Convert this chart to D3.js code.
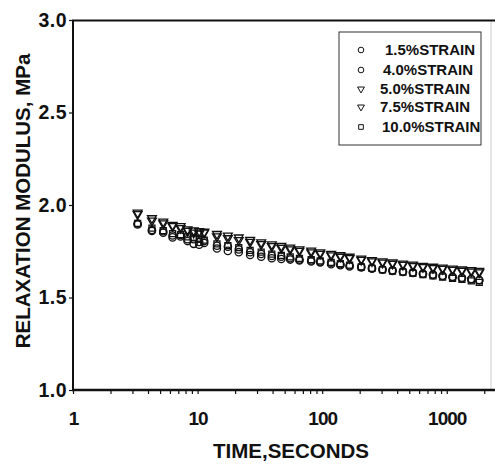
<!DOCTYPE html>
<html>
<head>
<meta charset="utf-8">
<script src="https://cdn.jsdelivr.net/npm/d3@7"></script>
<style>
  body { margin: 0; background: #fff; }
  text { font-family: "Liberation Sans", Arial, sans-serif; font-weight: bold; fill: #111; }
</style>
</head>
<body>
<svg id="svg" width="495" height="464"></svg>
<script>
// time in seconds (shared by all series)
const times = [3.3, 4.3, 5.3, 6.3, 7.3, 8.3, 9.3, 10.3, 11.3, 14.3, 17.5, 21.4, 26.4, 32.4, 39.4, 47, 55.4, 65.7,
  81.6, 96.4, 118, 140, 166, 206, 251, 305, 367, 445, 535, 644, 775, 926, 1113, 1324, 1573, 1823]

const strain15 = [1.895, 1.86, 1.85, 1.825, 1.83, 1.805, 1.79, 1.785, 1.795, 1.765, 1.752, 1.745, 1.73, 1.72, 1.712, 1.708,
  1.705, 1.70, 1.695, 1.69, 1.68, 1.675, 1.668, 1.662, 1.656, 1.65, 1.644, 1.638, 1.633, 1.627, 1.621, 1.615, 1.61, 1.604, 1.598, 1.592]
const strain40 = [1.90, 1.865, 1.858, 1.835, 1.838, 1.815, 1.815, 1.80, 1.805, 1.78, 1.775, 1.76, 1.745, 1.735, 1.725, 1.72,
  1.712, 1.705, 1.70, 1.695, 1.688, 1.68, 1.673, 1.668, 1.66, 1.653, 1.647, 1.641, 1.636, 1.63, 1.625, 1.618, 1.612, 1.607, 1.60, 1.595]
const strain50 = [1.958, 1.928, 1.91, 1.892, 1.885, 1.868, 1.862, 1.859, 1.855, 1.843, 1.834, 1.824, 1.811, 1.798, 1.787, 1.778,
  1.769, 1.76, 1.753, 1.744, 1.735, 1.728, 1.72, 1.71, 1.702, 1.695, 1.69, 1.683, 1.677, 1.671, 1.666, 1.661, 1.656, 1.651, 1.647, 1.643]
const strain75 = [1.95, 1.915, 1.90, 1.885, 1.875, 1.86, 1.85, 1.845, 1.85, 1.83, 1.82, 1.81, 1.80, 1.788, 1.777, 1.768,
  1.76, 1.752, 1.744, 1.736, 1.727, 1.72, 1.712, 1.703, 1.695, 1.688, 1.682, 1.676, 1.67, 1.664, 1.659, 1.654, 1.649, 1.644, 1.64, 1.636]
const strain100 = [1.90, 1.875, 1.862, 1.845, 1.84, 1.828, 1.822, 1.815, 1.81, 1.79, 1.78, 1.77, 1.755, 1.745, 1.735, 1.728,
  1.72, 1.712, 1.705, 1.698, 1.69, 1.683, 1.675, 1.665, 1.657, 1.65, 1.643, 1.637, 1.63, 1.624, 1.617, 1.61, 1.604, 1.598, 1.59, 1.582]

const seriesNames = ['1.5%STRAIN', '4.0%STRAIN', '5.0%STRAIN', '7.5%STRAIN', '10.0%STRAIN']
const seriesValues = [strain15, strain40, strain50, strain75, strain100]
const seriesShapes = ['circle', 'circle', 'triangle', 'triangle', 'square']

const xTickLabels = [1, 10, 100, 1000]
const yTickLabels = [1.0, 1.5, 2.0, 2.5, 3.0]

const svg = d3.select('#svg')

const xScale = d3.scaleLog()
  .domain([1, 2265])
  .range([73, 491])

const yScale = d3.scaleLinear()
  .domain([1, 3])
  .range([390, 20])

function markerPath(shape, scale) {
  if (shape === 'circle') return d3.symbol(d3.symbolCircle, 42 * scale)()
  if (shape === 'square') return d3.symbol(d3.symbolSquare, 36 * scale)()
  return d3.symbol(d3.symbolTriangle, 34 * scale)()
}
function markerTransform(shape, x, y) {
  return shape === 'triangle' ? `translate(${x},${y}) rotate(180)` : `translate(${x},${y})`
}

// x ticks: minor ticks every decade, labels only at powers of ten
const xTicks = []
for (let p = 1; p <= 1000; p *= 10) {
  for (let m = 1; m <= 9; m++) {
    if (m * p <= 2265) xTicks.push(m * p)
  }
}

const xAxis = d3.axisBottom(xScale)
  .tickValues(xTicks)
  .tickSize(4)
  .tickFormat(d => xTickLabels.includes(d) ? d : '')

svg.append('g')
  .attr('transform', 'translate(0,390)')
  .call(xAxis)
  .call(g => g.select('.domain').remove())
  .call(g => g.selectAll('line').attr('stroke', '#111').attr('stroke-width', 1.2))
  .call(g => g.selectAll('text')
    .attr('y', 22)
    .attr('dy', '0.71em')
    .style('font-size', '19px')
    .style('letter-spacing', '-1px')
    .style('font-family', '"Liberation Sans", Arial, sans-serif')
    .style('font-weight', 'bold')
    .attr('fill', '#111'))

const yAxis = d3.axisLeft(yScale)
  .tickValues(yTickLabels)
  .tickSize(4)
  .tickFormat(d3.format('.1f'))

svg.append('g')
  .attr('transform', 'translate(73,0)')
  .call(yAxis)
  .call(g => g.select('.domain').remove())
  .call(g => g.selectAll('line').attr('stroke', '#111').attr('stroke-width', 1.2))
  .call(g => g.selectAll('text')
    .attr('x', -6)
    .style('font-size', '19.5px')
    .style('letter-spacing', '0.5px')
    .style('font-family', '"Liberation Sans", Arial, sans-serif')
    .style('font-weight', 'bold')
    .attr('fill', '#111'))

// frame
svg.append('line').attr('x1', 491).attr('x2', 491).attr('y1', 20).attr('y2', 390)
  .attr('stroke', '#ccc').attr('stroke-width', 1)
svg.append('line').attr('x1', 72).attr('x2', 495).attr('y1', 20.5).attr('y2', 20.5)
  .attr('stroke', '#111').attr('stroke-width', 2)
svg.append('line').attr('x1', 73).attr('x2', 73).attr('y1', 20).attr('y2', 391)
  .attr('stroke', '#111').attr('stroke-width', 2)
svg.append('line').attr('x1', 72).attr('x2', 495).attr('y1', 390).attr('y2', 390)
  .attr('stroke', '#111').attr('stroke-width', 2.5)

// data markers
seriesValues.forEach((vals, si) => {
  const shape = seriesShapes[si]
  svg.append('g')
    .selectAll('path')
    .data(vals)
    .join('path')
    .attr('d', markerPath(shape, 1))
    .attr('transform', (d, i) => markerTransform(shape, xScale(times[i]), yScale(d)))
    .attr('fill', 'none')
    .attr('stroke', '#111')
    .attr('stroke-width', 1.3)
})

// legend
const legend = svg.append('g')
legend.append('rect')
  .attr('x', 339).attr('y', 32).attr('width', 142).attr('height', 113)
  .attr('fill', '#fff').attr('stroke', '#333').attr('stroke-width', 1)

const legendY = [50, 70, 89, 107, 127]
const legendTextX = [385, 383, 380, 380, 382]
seriesNames.forEach((name, i) => {
  const shape = seriesShapes[i]
  legend.append('path')
    .attr('d', markerPath(shape, 0.6))
    .attr('transform', markerTransform(shape, 361, legendY[i]))
    .attr('fill', 'none')
    .attr('stroke', '#111')
    .attr('stroke-width', 1)
  legend.append('text')
    .attr('x', legendTextX[i])
    .attr('y', legendY[i])
    .attr('dy', '0.36em')
    .style('font-size', '15px')
    .text(name)
})

// axis titles
svg.append('text')
  .attr('x', 291).attr('y', 458)
  .attr('text-anchor', 'middle')
  .style('font-size', '20.5px')
  .text('TIME,SECONDS')

svg.append('text')
  .attr('transform', 'translate(30,201) rotate(-90)')
  .attr('text-anchor', 'middle')
  .style('font-size', '20.5px')
  .text('RELAXATION MODULUS, MPa')
</script>
</body>
</html>
